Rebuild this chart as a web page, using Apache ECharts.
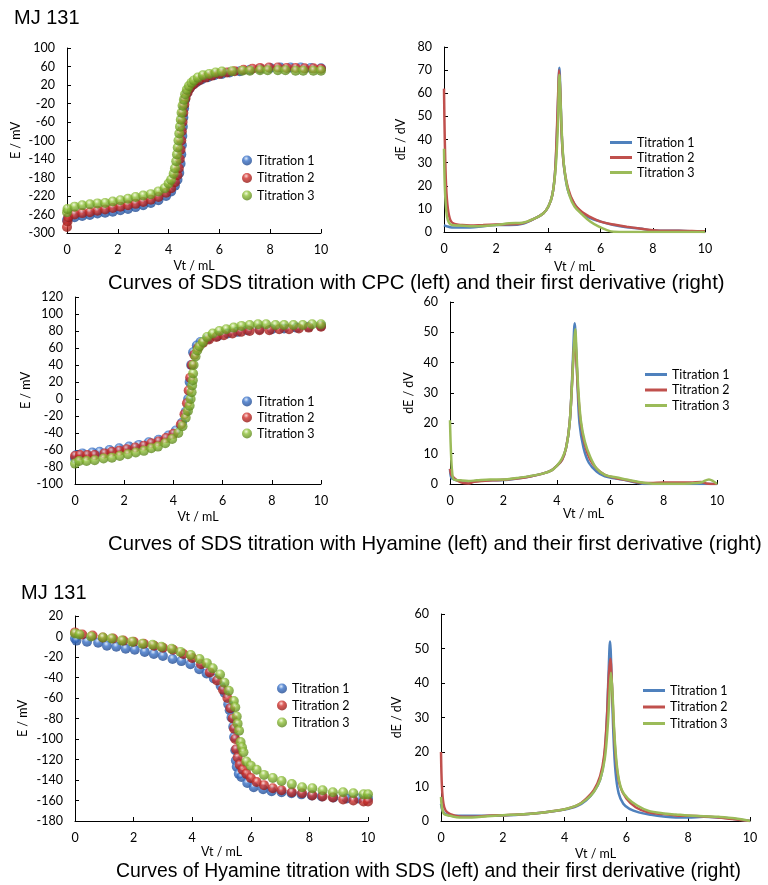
<!DOCTYPE html>
<html><head><meta charset="utf-8">
<script src="https://cdn.jsdelivr.net/npm/echarts@6/dist/echarts.min.js"></script>
<style>html,body{margin:0;padding:0;background:#fff}#c{width:768px;height:885px}</style>
</head><body><div id="c"></div>
<script>
// ---------- data ----------
const seriesNames = ['Titration 1','Titration 2','Titration 3'];
const xTicks = [0,2,4,6,8,10];
const captions = [
  'Curves of SDS titration with CPC (left) and their first derivative (right)',
  'Curves of SDS titration with Hyamine (left) and their first derivative (right)',
  'Curves of Hyamine titration with SDS (left) and their first derivative (right)'
];
const sampleLabel = 'MJ 131';

// SDS with CPC : potential
const cpcE1 = [[0,-272],[0.05,-268],[0.3,-266],[0.6,-263],[0.9,-261],[1.2,-258],[1.5,-256],[1.8,-254],[2.1,-251],[2.4,-248],[2.7,-244],[3.0,-240],[3.3,-235],[3.6,-229],[3.9,-220],[4.1,-210],[4.25,-198],[4.35,-185],[4.42,-170],[4.47,-150],[4.5,-130],[4.52,-110],[4.54,-90],[4.56,-70],[4.58,-50],[4.61,-30],[4.65,-12],[4.72,2],[4.82,12],[4.95,20],[5.1,26],[5.3,32],[5.55,37],[5.8,41],[6.1,44],[6.4,47],[6.8,50],[7.2,53],[7.6,55],[8,57],[8.4,58],[8.8,58],[9.2,58],[9.6,57],[10,56]];
const cpcE2 = [[0,-287],[0.02,-275],[0.05,-266],[0.3,-260],[0.6,-257],[0.9,-255],[1.2,-252],[1.5,-249],[1.8,-246],[2.1,-243],[2.4,-240],[2.7,-237],[3.0,-233],[3.3,-228],[3.6,-222],[3.9,-213],[4.1,-203],[4.25,-190],[4.35,-175],[4.4,-160],[4.44,-140],[4.47,-120],[4.5,-100],[4.52,-80],[4.55,-60],[4.58,-40],[4.62,-22],[4.67,-8],[4.75,4],[4.85,14],[5.0,22],[5.2,30],[5.45,36],[5.7,40],[6.0,44],[6.3,47],[6.6,50],[6.95,53],[7.3,55],[7.6,57],[7.95,58],[8.3,58],[8.65,57],[9.0,57],[9.35,56],[9.7,56],[10,55]];
const cpcE3 = [[0,-255],[0.02,-248],[0.3,-243],[0.6,-240],[0.9,-238],[1.2,-236],[1.5,-235],[1.8,-232],[2.1,-229],[2.4,-226],[2.7,-222],[3.0,-219],[3.3,-216],[3.6,-210],[3.85,-203],[4.0,-193],[4.1,-185],[4.2,-172],[4.25,-160],[4.3,-145],[4.33,-130],[4.36,-115],[4.39,-100],[4.42,-85],[4.45,-70],[4.48,-55],[4.51,-40],[4.55,-25],[4.6,-12],[4.65,0],[4.72,10],[4.8,18],[4.9,25],[5.0,30],[5.15,36],[5.35,41],[5.6,44],[5.85,47],[6.1,49],[6.5,50],[6.9,51],[7.2,51],[7.6,52],[7.9,52],[8.3,52],[8.6,52],[9.0,51],[9.3,51],[9.7,51],[10.0,51]];
// SDS with CPC : derivative
const cpcD1 = [[0,3],[0.1,2.5],[0.3,2],[0.6,2],[1,2],[1.5,2.5],[2,3],[2.5,3],[3,3.5],[3.5,6],[3.8,8],[4.0,11],[4.15,16],[4.25,25],[4.32,40],[4.38,60],[4.42,71],[4.46,60],[4.52,40],[4.6,28],[4.75,18],[5.0,12],[5.3,8],[5.6,6],[6,4.5],[6.5,3],[7,2],[7.5,1.5],[8,0.7],[9,0.5],[10,0]];
const cpcD2 = [[0,62],[0.03,40],[0.08,20],[0.15,10],[0.25,5],[0.4,3.5],[0.7,3],[1,2.8],[1.5,3],[2,3.2],[2.5,3.3],[3,3.8],[3.5,6],[3.8,8],[4.0,11],[4.15,16],[4.25,25],[4.32,42],[4.38,62],[4.41,70],[4.45,62],[4.5,45],[4.58,30],[4.75,19],[5,12],[5.3,8.5],[5.6,6.5],[6,4.5],[6.5,3.2],[7,2.3],[7.5,1.5],[8,0.8],[8.5,0.5],[9,0.5],[9.5,0.4],[10,0.3]];
const cpcD3 = [[0,36],[0.03,20],[0.08,10],[0.15,5],[0.3,3],[0.6,2.8],[1,2.5],[1.5,2.6],[2,3],[2.5,3.8],[3,4],[3.5,6],[3.8,8],[4,11],[4.15,16],[4.28,28],[4.36,45],[4.42,68],[4.47,55],[4.55,35],[4.65,24],[4.8,16],[5,11],[5.3,7.5],[5.6,4.5],[5.9,2.5],[6.2,1],[6.5,0.1],[7,0],[8,0],[9,0],[10,0]];

// SDS with Hyamine : potential
const hyaE1 = [[0,-70],[0.05,-66],[0.3,-64],[0.7,-63],[1.0,-62],[1.4,-60],[1.8,-58],[2.2,-56],[2.6,-54],[3.0,-51],[3.4,-48],[3.8,-43],[4.1,-37],[4.35,-28],[4.5,-15],[4.6,0],[4.66,20],[4.72,40],[4.8,55],[4.95,63],[5.1,67],[5.4,71],[5.8,74],[6.2,77],[6.6,79],[7.0,81],[7.5,82],[8.0,82],[8.5,83],[9.0,84],[9.5,85],[10,86]];
const hyaE2 = [[0,-67],[0.2,-66],[0.5,-66],[0.8,-66],[1.2,-64],[1.5,-62],[1.8,-61],[2.1,-59],[2.45,-57],[2.8,-55],[3.1,-52],[3.4,-50],[3.7,-46],[4.0,-41],[4.3,-30],[4.45,-18],[4.55,-5],[4.62,10],[4.68,25],[4.75,40],[4.85,52],[5.0,60],[5.2,66],[5.45,70],[5.75,73],[6.05,75],[6.4,77],[6.75,79],[7.1,80],[7.5,81],[7.9,81],[8.3,82],[8.7,82],[9.1,83],[9.5,84],[10,85]];
const hyaE3 = [[0,-76],[0.17,-73],[0.47,-73],[0.8,-72],[1.16,-70],[1.5,-69],[1.82,-67],[2.15,-65],[2.47,-63],[2.8,-61],[3.1,-58],[3.37,-56],[3.67,-52],[3.95,-47],[4.2,-40],[4.37,-32],[4.5,-22],[4.59,-14],[4.66,-8],[4.7,0],[4.74,8],[4.76,16],[4.79,22],[4.8,30],[4.82,40],[4.9,50],[4.97,57],[5.06,62],[5.2,67],[5.37,73],[5.6,77],[5.87,80],[6.15,82],[6.45,84],[6.77,86],[7.1,87],[7.44,88],[7.77,88],[8.15,87],[8.5,87],[8.88,87],[9.26,87],[9.64,88],[10,88]];
// SDS with Hyamine : derivative
const hyaD1 = [[0,5],[0.05,2],[0.15,1.5],[0.4,1],[0.7,0.8],[1,1],[1.5,1.2],[2,1.3],[2.5,1.8],[3,2.5],[3.5,3.5],[3.8,4.5],[4,6],[4.2,8],[4.35,12],[4.48,20],[4.56,32],[4.62,45],[4.67,53],[4.72,45],[4.78,32],[4.85,20],[5,12],[5.2,7],[5.5,4],[5.8,2.5],[6.2,1.8],[6.6,1.2],[7,0.4],[7.3,0],[8,0],[9,0],[10,0]];
const hyaD2 = [[0,5],[0.05,3],[0.15,2],[0.3,1],[0.5,0.3],[0.7,0.2],[0.9,0.7],[1.2,1],[1.6,1.2],[2,1.4],[2.5,1.8],[3,2.5],[3.5,3.5],[3.8,4.5],[4,6],[4.2,8],[4.35,12],[4.48,20],[4.57,33],[4.63,43],[4.68,48],[4.74,40],[4.8,30],[4.9,20],[5.05,13],[5.25,8],[5.5,5],[5.8,3],[6.2,2],[6.6,1.3],[7,0.6],[7.5,0.3],[8,0.5],[8.5,0.5],[9,0.5],[9.4,0.7],[9.6,0.2],[10,0]];
const hyaD3 = [[0,21],[0.03,12],[0.08,4],[0.15,1.5],[0.4,1.2],[0.7,1],[1,1.2],[1.5,1.5],[2,1.5],[2.5,2],[3,2.6],[3.5,3.5],[3.8,4.5],[4,6],[4.2,8.5],[4.35,12],[4.48,20],[4.57,33],[4.64,45],[4.69,51],[4.74,43],[4.8,32],[4.9,21],[5.05,14],[5.25,9],[5.5,5],[5.8,3],[6.2,2.2],[6.6,1.5],[7,0.8],[7.5,0.2],[8,0.1],[8.5,0.1],[9,0.2],[9.4,0.5],[9.7,1.5],[9.85,1],[10,0]];

// Hyamine with SDS : potential
const sdsE1 = [[0,-2],[0.05,-4],[0.41,-5],[0.79,-6],[1.09,-9],[1.41,-10],[1.73,-12],[2.04,-13],[2.38,-15],[2.69,-17],[3.0,-19],[3.33,-22],[3.63,-24],[3.94,-27],[4.24,-32],[4.49,-36],[4.74,-41],[4.97,-48],[5.11,-55],[5.23,-66],[5.28,-72],[5.34,-79],[5.4,-88],[5.43,-98],[5.47,-111],[5.49,-121],[5.52,-127],[5.59,-134],[5.68,-137],[5.88,-143],[6.1,-147],[6.42,-149],[6.71,-151],[7.05,-152],[7.39,-153],[7.73,-154],[8.08,-155],[8.42,-156],[8.82,-157],[9.27,-158],[9.67,-158],[10,-158]];
const sdsE2 = [[0,4],[0.25,2],[0.6,1],[0.95,-1],[1.3,-2],[1.65,-4],[2.0,-5],[2.35,-7],[2.7,-9],[3.0,-11],[3.35,-13],[3.7,-17],[4.0,-21],[4.3,-27],[4.6,-35],[4.85,-43],[5.05,-52],[5.2,-60],[5.3,-70],[5.38,-80],[5.43,-90],[5.47,-100],[5.5,-110],[5.55,-118],[5.62,-125],[5.72,-130],[5.85,-134],[6.0,-138],[6.2,-142],[6.45,-145],[6.75,-148],[7.05,-150],[7.4,-152],[7.75,-153],[8.1,-155],[8.45,-156],[8.8,-157],[9.15,-159],[9.5,-160],[9.85,-161],[10,-161]];
const sdsE3 = [[0,3],[0.15,2],[0.55,0],[0.95,-1],[1.25,-2],[1.6,-4],[1.95,-5],[2.3,-7],[2.65,-8],[2.95,-10],[3.3,-12],[3.6,-15],[3.95,-18],[4.25,-22],[4.5,-26],[4.7,-31],[4.95,-37],[5.1,-45],[5.25,-53],[5.42,-63],[5.47,-69],[5.52,-78],[5.55,-85],[5.6,-92],[5.65,-103],[5.7,-108],[5.75,-113],[5.85,-122],[6.0,-126],[6.2,-130],[6.45,-135],[6.75,-138],[7.05,-141],[7.4,-144],[7.75,-147],[8.1,-148],[8.45,-150],[8.8,-152],[9.15,-152],[9.5,-153],[9.85,-154],[10,-154]];
// Hyamine with SDS : derivative
const sdsD1 = [[0,5],[0.05,3],[0.15,2],[0.4,1.5],[0.7,1.5],[1,1.5],[1.5,1.5],[2,1.6],[2.5,1.8],[3,2.2],[3.5,2.7],[4,3.3],[4.4,4.3],[4.7,6],[4.95,8.5],[5.15,12],[5.28,18],[5.36,28],[5.42,42],[5.47,52],[5.52,42],[5.58,25],[5.65,14],[5.75,8],[5.9,5],[6.1,3.5],[6.4,2.5],[6.8,1.8],[7.2,1.3],[7.6,1],[8,1],[8.5,1.2],[9,1],[9.5,0.6],[10,0]];
const sdsD2 = [[0,20],[0.03,10],[0.08,5],[0.15,3],[0.3,2],[0.6,1.3],[1,1.2],[1.5,1.5],[2,1.7],[2.5,1.9],[3,2.2],[3.5,2.7],[4,3.4],[4.4,4.5],[4.7,6.5],[4.95,9],[5.15,13],[5.28,19],[5.37,30],[5.43,42],[5.48,47],[5.53,40],[5.6,26],[5.68,16],[5.8,10],[6,6.5],[6.3,4],[6.7,2.5],[7.2,2],[7.6,1.6],[8,1.5],[8.5,1.3],[9,1],[9.5,0.5],[10,0]];
const sdsD3 = [[0,7],[0.03,4],[0.1,2],[0.3,1.5],[0.6,1],[1,1],[1.5,1.4],[2,1.7],[2.5,1.9],[3,2.2],[3.5,2.7],[4,3.4],[4.4,4.5],[4.7,6.2],[4.95,8.5],[5.15,12],[5.3,18],[5.4,28],[5.46,38],[5.5,43],[5.55,37],[5.62,24],[5.72,14],[5.85,9],[6.05,6.5],[6.35,4.5],[6.7,3],[7.2,2.2],[7.6,1.9],[8,1.6],[8.5,1.4],[9,1.2],[9.5,0.8],[10,0]];

// ---------- styling ----------
const lineColors = ['#4f81bd','#c0504d','#9bbb59'];
const sphere = [
  ['#d6e6fb','#3a72c8','#1d4488'],
  ['#fbd0ce','#d1322d','#8a1512'],
  ['#eef8d2','#8fc03a','#557d18']
];
function sphereColor(i){
  return {type:'radial',x:0.42,y:0.3,r:0.75,colorStops:[
    {offset:0,color:sphere[i][0]},{offset:0.35,color:sphere[i][1]},{offset:1,color:sphere[i][2]}]};
}
const FONT = 'Lato, "Open Sans", sans-serif';
const labelStyle = {color:'#000',fontFamily:FONT,fontSize:12.5};

const panels = [
  {grid:{left:67,top:48,width:254,height:185},y:[-300,100,40],yName:'E / mV',yGap:45,xGap:26,data:[cpcE1,cpcE2,cpcE3],kind:'scatter',legend:{left:242,top:154,gap:4.5}},
  {grid:{left:444,top:47,width:261,height:185},y:[0,80,10],yName:'dE / dV',yGap:37,xGap:28,data:[cpcD1,cpcD2,cpcD3],kind:'line',legend:{left:610,top:136,gap:2}},
  {grid:{left:75,top:297,width:246,height:187},y:[-100,120,20],yName:'E / mV',yGap:36,xGap:26,data:[hyaE1,hyaE2,hyaE3],kind:'scatter',legend:{left:242,top:395,gap:3}},
  {grid:{left:450,top:302,width:267,height:182},y:[0,60,10],yName:'dE / dV',yGap:35,xGap:23,data:[hyaD1,hyaD2,hyaD3],kind:'line',legend:{left:645,top:368,gap:2.5}},
  {grid:{left:75,top:616,width:293,height:205},y:[-180,20,20],yName:'E / mV',yGap:46,xGap:24,data:[sdsE1,sdsE2,sdsE3],kind:'scatter',legend:{left:277,top:682,gap:4}},
  {grid:{left:441,top:614,width:309,height:207},y:[0,60,10],yName:'dE / dV',yGap:38,xGap:26,data:[sdsD1,sdsD2,sdsD3],kind:'line',legend:{left:643,top:684,gap:3.5}}
];

const grid=[],xAxis=[],yAxis=[],series=[],legend=[];
panels.forEach((p,k)=>{
  grid.push(Object.assign({containLabel:false},p.grid));
  const axisBase = {
    axisLine:{show:true,onZero:false,lineStyle:{color:'#000',width:1}},
    axisTick:{show:true,inside:true,length:4,lineStyle:{color:'#000'}},
    splitLine:{show:false},
    nameTextStyle:{color:'#000',fontFamily:FONT,fontSize:12.5}
  };
  xAxis.push(Object.assign({type:'value',gridIndex:k,min:xTicks[0],max:xTicks[xTicks.length-1],interval:2,
    name:'Vt / mL',nameLocation:'middle',nameGap:p.xGap},axisBase,{axisLabel:Object.assign({margin:10},labelStyle)}));
  yAxis.push(Object.assign({type:'value',gridIndex:k,min:p.y[0],max:p.y[1],interval:p.y[2],
    name:p.yName,nameLocation:'middle',nameGap:p.yGap,nameRotate:90},axisBase,{axisLabel:Object.assign({margin:12},labelStyle)}));
  const names=[];
  p.data.forEach((d,i)=>{
    const nm = k+'|'+seriesNames[i];
    names.push(nm);
    if(p.kind==='scatter'){
      series.push({type:'scatter',name:nm,xAxisIndex:k,yAxisIndex:k,data:d,symbol:'circle',symbolSize:10,
        itemStyle:{color:sphereColor(i)},z:2+i});
    } else {
      series.push({type:'line',name:nm,xAxisIndex:k,yAxisIndex:k,data:d,symbol:'none',showSymbol:false,smooth:0.35,
        lineStyle:{color:lineColors[i],width:2.5},itemStyle:{color:lineColors[i]},z:2+i});
    }
  });
  const lg = {data:names,orient:'vertical',left:p.legend.left,top:p.legend.top,itemGap:p.legend.gap,padding:0,
    selectedMode:false,formatter:n=>n.split('|')[1],
    textStyle:{color:'#000',fontFamily:FONT,fontSize:12.5,lineHeight:13}};
  if(p.kind==='scatter'){ lg.itemWidth=10; lg.itemHeight=10; }
  else { lg.icon='rect'; lg.itemWidth=22; lg.itemHeight=3; }
  legend.push(lg);
});

const CAP = '"Liberation Sans", Arial, sans-serif';
const graphic = [
  {type:'text',left:14,top:8,style:{text:sampleLabel,font:'20px '+CAP,fill:'#000'}},
  {type:'text',left:21,top:583,style:{text:sampleLabel,font:'20px '+CAP,fill:'#000'}},
  {type:'text',left:108,top:273,style:{text:captions[0],font:'20.3px '+CAP,fill:'#000'}},
  {type:'text',left:108,top:534,style:{text:captions[1],font:'20.3px '+CAP,fill:'#000'}},
  {type:'text',left:116,top:862,style:{text:captions[2],font:'19.4px '+CAP,fill:'#000'}}
];

const chart = echarts.init(document.getElementById('c'),null,{renderer:'canvas'});
chart.setOption({animation:false,backgroundColor:'#fff',grid,xAxis,yAxis,series,legend,graphic});
</script></body></html>
